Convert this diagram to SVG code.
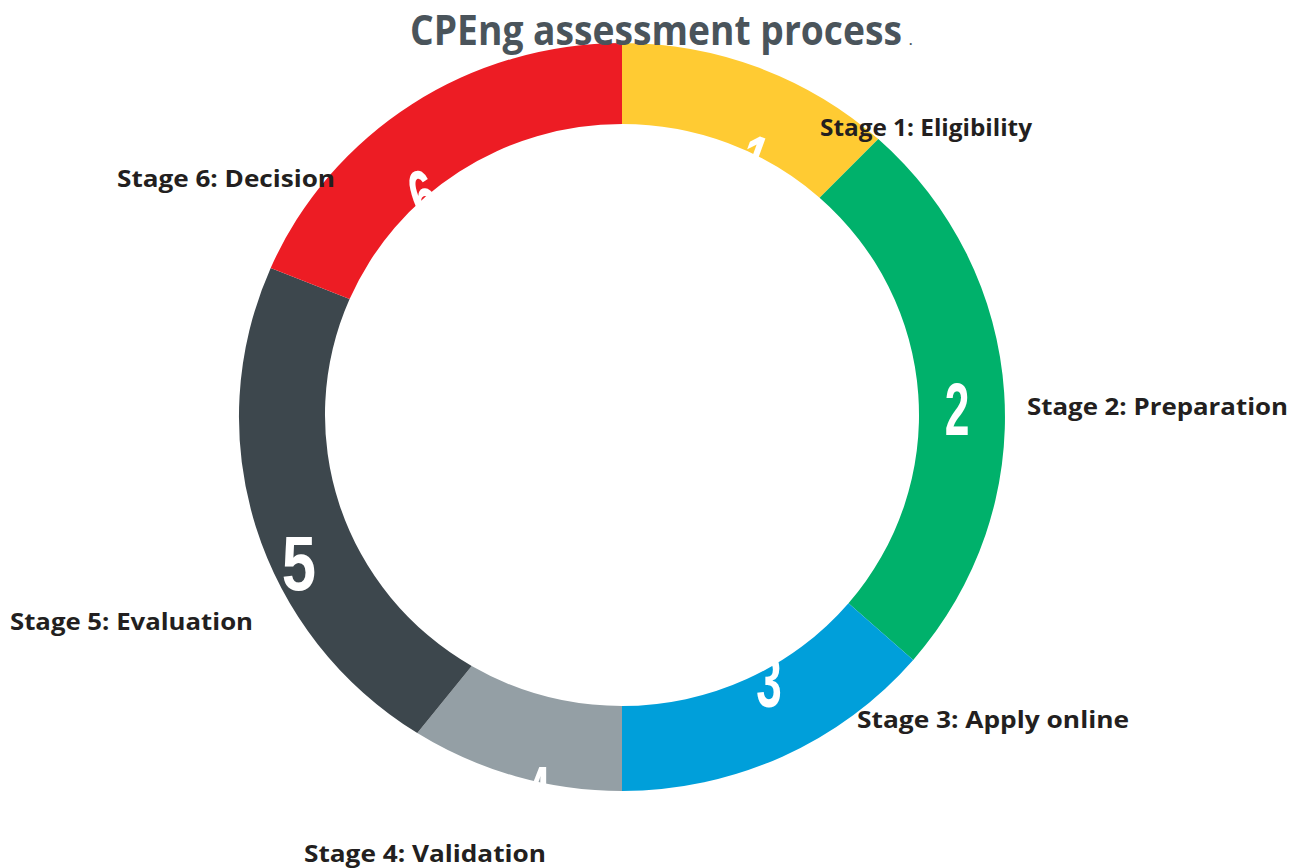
<svg xmlns="http://www.w3.org/2000/svg" width="1300" height="868" viewBox="0 0 1300 868">
<style>
.lbl{font-family:"Open Sans","Liberation Sans",sans-serif;font-weight:700;font-size:24px;fill:#231F20}
.num{font-family:"Liberation Sans",Arial,sans-serif;fill:#FFFFFF;text-anchor:middle;font-weight:700}
.title{font-family:"Open Sans","Liberation Sans",sans-serif;font-weight:700;fill:#4A545B}
</style>
<rect width="1300" height="868" fill="#FFFFFF"/>
<g id="ring">
<g id="seg1"><path d="M622,43 A383,374 0 0 1 878.3,139.1 L819.6,197.7 A297,291 0 0 0 622,124 Z" fill="#FFCB33"/></g>
<g id="seg2"><path d="M878.3,139.1 A383,374 0 0 1 913.2,659.9 L848.5,603.2 A297,291 0 0 0 819.6,197.7 Z" fill="#00B16B"/></g>
<g id="seg3"><path d="M913.2,659.9 A383,374 0 0 1 622,791 L622,706 A297,291 0 0 0 848.5,603.2 Z" fill="#009FDA"/></g>
<g id="seg4"><path d="M622,791 A383,374 0 0 1 417.3,733.1 L471.7,666 A297,291 0 0 0 622,706 Z" fill="#949FA5"/></g>
<g id="seg5"><path d="M417.3,733.1 A383,374 0 0 1 270.7,267.9 L349.6,299 A297,291 0 0 0 471.7,666 Z" fill="#3D474D"/></g>
<g id="seg6"><path d="M270.7,267.9 A383,374 0 0 1 622,43 L622,124 A297,291 0 0 0 349.6,299 Z" fill="#ED1C24"/></g>
</g>
<g id="numbers">
<text class="num" transform="translate(744,185) rotate(20) scale(0.6,1)" font-size="74">1</text>
<text class="num" transform="translate(957,435) scale(0.6,1)" font-size="74">2</text>
<text class="num" transform="translate(769,707) scale(0.62,1)" font-size="74">3</text>
<text class="num" transform="translate(538,818) scale(0.6,1)" font-size="74">4</text>
<text class="num" transform="translate(299,590) scale(0.8,1)" font-size="77">5</text>
<text class="num" transform="translate(432,220) rotate(-20) scale(0.6,1)" font-size="74">6</text>
</g>
<g id="title">
<text class="title" x="410" y="45" font-size="42" textLength="492" lengthAdjust="spacingAndGlyphs">CPEng assessment process</text>
<text class="title" x="909" y="45" font-size="12" font-weight="400">.</text>
</g>
<g id="labels">
<text class="lbl" x="820" y="136" textLength="212" lengthAdjust="spacingAndGlyphs">Stage 1: Eligibility</text>
<text class="lbl" x="1027" y="415" textLength="261" lengthAdjust="spacingAndGlyphs">Stage 2: Preparation</text>
<text class="lbl" x="857" y="728" textLength="272" lengthAdjust="spacingAndGlyphs">Stage 3: Apply online</text>
<text class="lbl" x="304" y="862" textLength="242" lengthAdjust="spacingAndGlyphs">Stage 4: Validation</text>
<text class="lbl" x="10" y="630" textLength="243" lengthAdjust="spacingAndGlyphs">Stage 5: Evaluation</text>
<text class="lbl" x="117" y="187" textLength="218" lengthAdjust="spacingAndGlyphs">Stage 6: Decision</text>
</g>
</svg>
